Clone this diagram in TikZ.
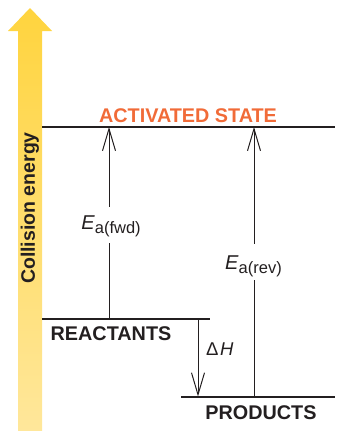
\documentclass[tikz,border=0pt]{standalone}
\usepackage{fontspec}
\setmainfont{Liberation Sans}
\usetikzlibrary{arrows.meta}
\definecolor{ink}{RGB}{35,31,32}
\definecolor{orng}{RGB}{241,107,56}
\definecolor{ytop}{RGB}{255,212,62}
\definecolor{ybot}{RGB}{255,231,155}
\tikzset{
  level/.style={draw=ink, line width=2pt},
  vline/.style={draw=ink, line width=1pt},
  barb/.style={vline, -{Straight Barb[length=22pt,width=13pt,line width=1pt]}},
  statelabel/.style={font=\fontsize{19.8}{19.8}\selectfont\bfseries, text=ink, inner sep=0pt, anchor=base},
  ealabel/.style={inner xsep=0pt, inner ysep=2pt, anchor=base, text=ink}
}
\newcommand{\Ebig}[1]{{\fontsize{20}{20}\selectfont\textit{E}}\raisebox{-4pt}{\fontsize{16.5}{16.5}\selectfont #1}}
\begin{document}
\begin{tikzpicture}[x=1pt,y=-1pt]
\useasboundingbox (0,0) rectangle (339,431);
% energy arrow
\shade[top color=ytop, bottom color=ybot] (18,431) -- (18,31) -- (8,31) -- (30,8) -- (52,31) -- (42,31) -- (42,431) -- cycle;
\node[rotate=90, font=\fontsize{19.5}{19.5}\selectfont\bfseries, text=ink, inner sep=0pt] (axis) at (30,208) {Collision energy};
% levels
\coordinate (actL) at (42,127); \coordinate (actR) at (335,127);
\coordinate (reaL) at (42,319); \coordinate (reaR) at (210,319);
\coordinate (proL) at (181,397); \coordinate (proR) at (335,397);
\draw[level] (actL) -- (actR);
\draw[level] (reaL) -- (reaR);
\draw[level] (proL) -- (proR);
% labels
\node[statelabel, text=orng] (act) at (188,122.3) {ACTIVATED STATE};
\node[statelabel] (rea) at (111,340.7) {REACTANTS};
\node[statelabel] (pro) at (261,419.3) {PRODUCTS};
% Ea(fwd)
\coordinate (fwdB) at (109,319); \coordinate (fwdT) at (109,127);
\node[ealabel, text height=20pt, text depth=12pt] (efwd) at (111,229) {\Ebig{a(fwd)}};
\draw[vline] (fwdB) -- (fwdB |- efwd.south);
\draw[barb] (fwdB |- efwd.north) -- (fwdT);
% Ea(rev)
\coordinate (revB) at (254,397); \coordinate (revT) at (254,127);
\node[ealabel, text height=23pt, text depth=9pt] (erev) at (253.5,269) {\Ebig{a(rev)}};
\draw[vline] (revB) -- (revB |- erev.south);
\draw[barb] (revB |- erev.north) -- (revT);
% Delta H
\coordinate (dhT) at (198,319); \coordinate (dhB) at (198,396.5);
\draw[barb] (dhT) -- (dhB);
\node[anchor=base west, inner sep=0pt, text=ink, font=\fontsize{18.5}{18.5}\selectfont] (dh) at (206,355) {Δ\kern1.5pt\textit{H}};
\end{tikzpicture}
\end{document}
